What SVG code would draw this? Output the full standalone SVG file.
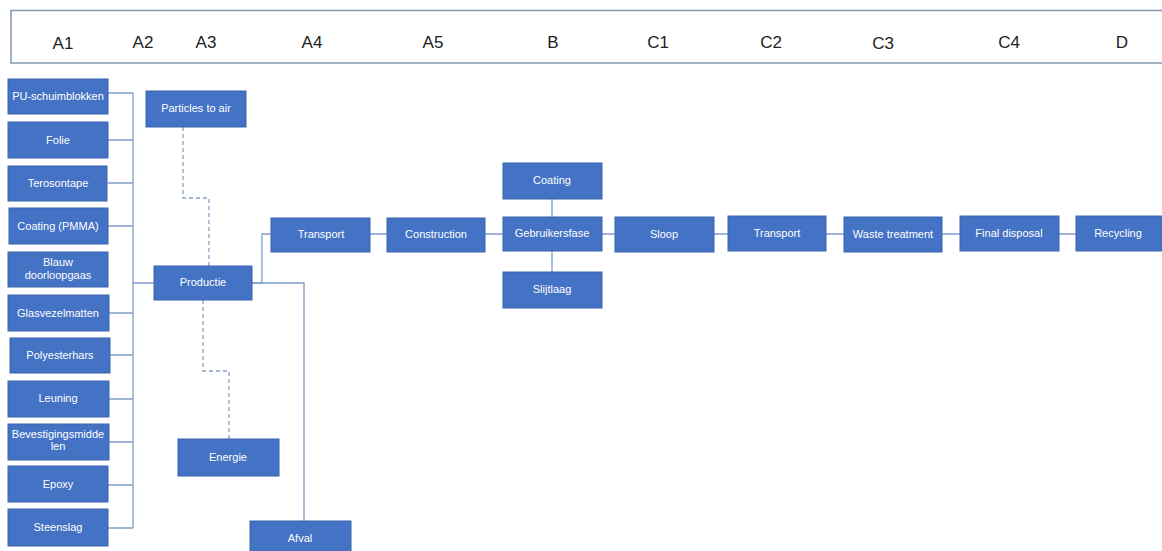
<svg xmlns="http://www.w3.org/2000/svg" width="1162" height="551" viewBox="0 0 1162 551">
<style>
.box{fill:#4472C4;stroke:#3b64ad;stroke-width:1}
.t{fill:#ffffff;font-family:"Liberation Sans",Arial,sans-serif;font-size:11px;text-anchor:middle}
.h{fill:#222222;font-family:"Liberation Sans",Arial,sans-serif;font-size:17px;text-anchor:middle}
.ln{fill:none;stroke:#7f9ccc;stroke-width:1.3}
.ds{fill:none;stroke:#8a9fc3;stroke-width:1.3;stroke-dasharray:4 3}
</style>
<rect x="0" y="0" width="1162" height="551" fill="#ffffff"/>
<g id="header">
<rect x="11" y="10.5" width="1160" height="52.5" fill="#ffffff" stroke="#8496b0" stroke-width="1.5"/>
<text class="h" x="63" y="49">A1</text>
<text class="h" x="143" y="48">A2</text>
<text class="h" x="206" y="48">A3</text>
<text class="h" x="312" y="48">A4</text>
<text class="h" x="433" y="48">A5</text>
<text class="h" x="553" y="48">B</text>
<text class="h" x="658" y="48">C1</text>
<text class="h" x="771" y="48">C2</text>
<text class="h" x="883" y="49">C3</text>
<text class="h" x="1009" y="48">C4</text>
<text class="h" x="1122" y="48">D</text>
</g>
<g id="connectors">
<path class="ln" d="M133 93V528"/>
<path class="ln" d="M108 93H133M108 140H133M108 183H133M108 226H133M133 283H154M108 313H133M109 355H133M108 399H133M108 442H133M108 485H133M108 528H133"/>
<path class="ds" d="M183 127V198H209V266"/>
<path class="ds" d="M203 300V371H229V439"/>
<path class="ln" d="M252 283H262V234H271"/>
<path class="ln" d="M252 283H304V521"/>
<path class="ln" d="M370 234H387M485 234H503M602 234H615M714 234H728M826 234H844M942 234H960M1059 234H1076"/>
<path class="ln" d="M552 199V217M552 251V272"/>
</g>
<g id="n-pu"><rect class="box" x="8" y="79" width="100" height="35"/><text class="t" x="58" y="100">PU-schuimblokken</text></g>
<g id="n-folie"><rect class="box" x="8" y="122" width="100" height="36"/><text class="t" x="58" y="144">Folie</text></g>
<g id="n-terosontape"><rect class="box" x="8" y="166" width="99" height="35"/><text class="t" x="58" y="187">Terosontape</text></g>
<g id="n-coatingpmma"><rect class="box" x="9" y="208" width="99" height="36"/><text class="t" x="58" y="230">Coating (PMMA)</text></g>
<g id="n-blauw"><rect class="box" x="8" y="252" width="100" height="35"/><text class="t" x="58" y="266">Blauw</text><text class="t" x="58" y="279">doorloopgaas</text></g>
<g id="n-glasvezel"><rect class="box" x="8" y="295" width="101" height="36"/><text class="t" x="58" y="317">Glasvezelmatten</text></g>
<g id="n-polyester"><rect class="box" x="10" y="338" width="100" height="35"/><text class="t" x="60" y="359">Polyesterhars</text></g>
<g id="n-leuning"><rect class="box" x="8" y="381" width="101" height="36"/><text class="t" x="58" y="402">Leuning</text></g>
<g id="n-bevestiging"><rect class="box" x="8" y="424" width="101" height="36"/><text class="t" x="58" y="438">Bevestigingsmidde</text><text class="t" x="58" y="450">len</text></g>
<g id="n-epoxy"><rect class="box" x="8" y="466" width="100" height="36"/><text class="t" x="58" y="488">Epoxy</text></g>
<g id="n-steenslag"><rect class="box" x="8" y="509" width="100" height="37"/><text class="t" x="58" y="531">Steenslag</text></g>
<g id="n-particles"><rect class="box" x="146" y="91" width="100" height="36"/><text class="t" x="196" y="112">Particles to air</text></g>
<g id="n-productie"><rect class="box" x="154" y="266" width="98" height="34"/><text class="t" x="203" y="286">Productie</text></g>
<g id="n-energie"><rect class="box" x="178" y="439" width="101" height="37"/><text class="t" x="228" y="461">Energie</text></g>
<g id="n-afval"><rect class="box" x="250" y="521" width="101" height="36"/><text class="t" x="300" y="542">Afval</text></g>
<g id="n-transport1"><rect class="box" x="271" y="218" width="99" height="34"/><text class="t" x="321" y="238">Transport</text></g>
<g id="n-construction"><rect class="box" x="387" y="218" width="98" height="34"/><text class="t" x="436" y="238">Construction</text></g>
<g id="n-coating"><rect class="box" x="503" y="163" width="99" height="36"/><text class="t" x="552" y="184">Coating</text></g>
<g id="n-gebruikersfase"><rect class="box" x="503" y="217" width="99" height="34"/><text class="t" x="552" y="237">Gebruikersfase</text></g>
<g id="n-slijtlaag"><rect class="box" x="503" y="272" width="99" height="36"/><text class="t" x="552" y="293">Slijtlaag</text></g>
<g id="n-sloop"><rect class="box" x="615" y="217" width="99" height="35"/><text class="t" x="664" y="238">Sloop</text></g>
<g id="n-transport2"><rect class="box" x="728" y="216" width="98" height="35"/><text class="t" x="777" y="237">Transport</text></g>
<g id="n-waste"><rect class="box" x="844" y="217" width="98" height="35"/><text class="t" x="893" y="238">Waste treatment</text></g>
<g id="n-final"><rect class="box" x="960" y="216" width="99" height="35"/><text class="t" x="1009" y="237">Final disposal</text></g>
<g id="n-recycling"><rect class="box" x="1076" y="216" width="95" height="35"/><text class="t" x="1118" y="237">Recycling</text></g>
</svg>
